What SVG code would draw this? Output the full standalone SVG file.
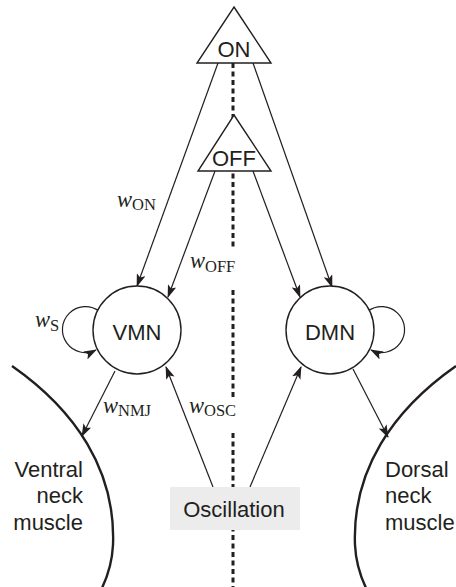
<svg xmlns="http://www.w3.org/2000/svg" width="456" height="587" viewBox="0 0 456 587">
<style>
.ln{stroke:#231f20;stroke-width:1.2;fill:none}
.node{stroke:#231f20;stroke-width:1.4;fill:#fff}
.dash{stroke:#231f20;stroke-width:3;stroke-dasharray:5 3.5}
.lbl{font-family:"Liberation Sans",Arial,sans-serif;font-size:22px;fill:#231f20}
.w{font-family:"Liberation Serif","Times New Roman",serif;font-style:italic;font-size:22.5px;fill:#231f20}
.sub{font-style:normal;font-size:16.5px}
.musc{stroke:#231f20;stroke-width:2.4;fill:none}
</style>
<defs>
<marker id="ah" viewBox="0 0 13 9" refX="12" refY="4.5" markerWidth="13" markerHeight="9" markerUnits="userSpaceOnUse" orient="auto">
<path d="M0,0 L13,4.5 L0,9 L3,4.5 z" fill="#231f20"/>
</marker>
</defs>
<rect width="456" height="587" fill="#fff"/>
<g id="midline">
<line class="dash" x1="233" y1="63" x2="233" y2="250"/>
<line class="dash" x1="233" y1="290" x2="233" y2="398"/>
<line class="dash" x1="233" y1="433" x2="233" y2="587"/>
</g>
<g id="ventral-muscle">
<path class="musc" d="M12,366 C75,410 116,470 113,545 C112,565 107,578 101,590"/>
<text class="lbl" text-anchor="end" x="83" y="477">Ventral</text>
<text class="lbl" text-anchor="end" x="83" y="503">neck</text>
<text class="lbl" text-anchor="end" x="83" y="530">muscle</text>
</g>
<g id="dorsal-muscle">
<path class="musc" d="M456,366 C393,410 352,470 355,545 C356,565 361,578 367,590"/>
<text class="lbl" x="385" y="477">Dorsal</text>
<text class="lbl" x="385" y="503">neck</text>
<text class="lbl" x="385" y="530">muscle</text>
</g>
<g id="connectors">
<line class="ln" x1="218" y1="63" x2="137" y2="286" marker-end="url(#ah)"/>
<line class="ln" x1="253" y1="63" x2="332" y2="287" marker-end="url(#ah)"/>
<line class="ln" x1="215" y1="171" x2="168" y2="297" marker-end="url(#ah)"/>
<line class="ln" x1="253" y1="171" x2="300" y2="297" marker-end="url(#ah)"/>
<line class="ln" x1="213" y1="487" x2="166" y2="367" marker-end="url(#ah)"/>
<line class="ln" x1="250" y1="487" x2="301" y2="367" marker-end="url(#ah)"/>
<line class="ln" x1="115" y1="371" x2="82" y2="436" marker-end="url(#ah)"/>
<line class="ln" x1="353" y1="369" x2="388" y2="437" marker-end="url(#ah)"/>
<path class="ln" d="M99,311 A23,23 0 1 0 96,350" marker-end="url(#ah)"/>
<path class="ln" d="M368,311 A23,23 0 1 1 371,350" marker-end="url(#ah)"/>
</g>
<g id="ON">
<polygon class="node" points="234,7 271,63 197,63"/>
<text class="lbl" text-anchor="middle" x="234" y="57">ON</text>
</g>
<g id="OFF">
<polygon class="node" points="234,115 271,171 198,171"/>
<text class="lbl" text-anchor="middle" x="234" y="166">OFF</text>
</g>
<g id="VMN">
<circle class="node" cx="137" cy="330" r="44"/>
<text class="lbl" text-anchor="middle" x="137" y="340">VMN</text>
</g>
<g id="DMN">
<circle class="node" cx="330" cy="330" r="44"/>
<text class="lbl" text-anchor="middle" x="330" y="340">DMN</text>
</g>
<g id="Oscillation">
<rect x="170" y="487" width="130" height="43" fill="#ececec"/>
<text class="lbl" text-anchor="middle" x="234" y="517">Oscillation</text>
</g>
<g id="weights">
<text class="w" x="117" y="207">w<tspan class="sub" dy="3">ON</tspan></text>
<text class="w" x="190" y="268">w<tspan class="sub" dy="4">OFF</tspan></text>
<text class="w" x="35" y="327">w<tspan class="sub" dy="4">S</tspan></text>
<text class="w" x="103" y="413">w<tspan class="sub" dy="3">NMJ</tspan></text>
<text class="w" x="189" y="413">w<tspan class="sub" dy="3">OSC</tspan></text>
</g>
</svg>
